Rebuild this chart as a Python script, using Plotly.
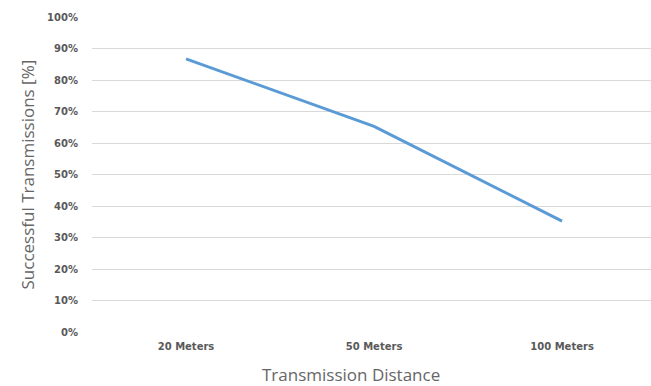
import plotly.graph_objects as go

categories = ["20 Meters", "50 Meters", "100 Meters"]
success = [0.867, 0.653, 0.352]
y_ticks = [0, 0.1, 0.2, 0.3, 0.4, 0.5, 0.6, 0.7, 0.8, 0.9, 1.0]
y_tick_labels = ["0%", "10%", "20%", "30%", "40%", "50%", "60%", "70%", "80%", "90%", "100%"]

fig = go.Figure()
fig.add_trace(go.Scatter(
    x=categories, y=success, mode="lines",
    line=dict(color="#5B9BD5", width=3),
    hoverinfo="skip", showlegend=False,
))

tick_font = dict(family="DejaVu Sans", size=10, color="#595959", weight="bold")
title_font = dict(family="Open Sans", size=17, color="#666666")

fig.update_layout(
    width=651, height=386,
    margin=dict(l=92, r=0, t=17, b=54),
    paper_bgcolor="white", plot_bgcolor="white",
    xaxis=dict(
        type="category", range=[-0.5, 2.473],
        showgrid=False, showline=False, zeroline=False,
        ticks="", tickfont=tick_font, ticklabelstandoff=7,
    ),
    yaxis=dict(
        range=[0, 1.0], tickvals=y_ticks, ticktext=y_tick_labels,
        showgrid=True, gridcolor="#D9D9D9", gridwidth=1,
        zeroline=False, showline=False, ticks="",
        tickfont=tick_font, ticklabelstandoff=13,
    ),
    annotations=[
        dict(text="Transmission Distance", xref="paper", yref="paper",
             x=(351 - 92) / 559, y=-(374 - 332) / 315, xanchor="center", yanchor="middle",
             showarrow=False, font=title_font),
        dict(text="Successful Transmissions [%]", xref="paper", yref="paper",
             x=-(92 - 27) / 559, y=0.5, xanchor="center", yanchor="middle", textangle=-90,
             showarrow=False, font=title_font),
    ],
)

fig.write_html("out.html", config={"displayModeBar": False, "staticPlot": True},
               post_script="document.body.style.margin='0';document.body.style.overflow='hidden';")
